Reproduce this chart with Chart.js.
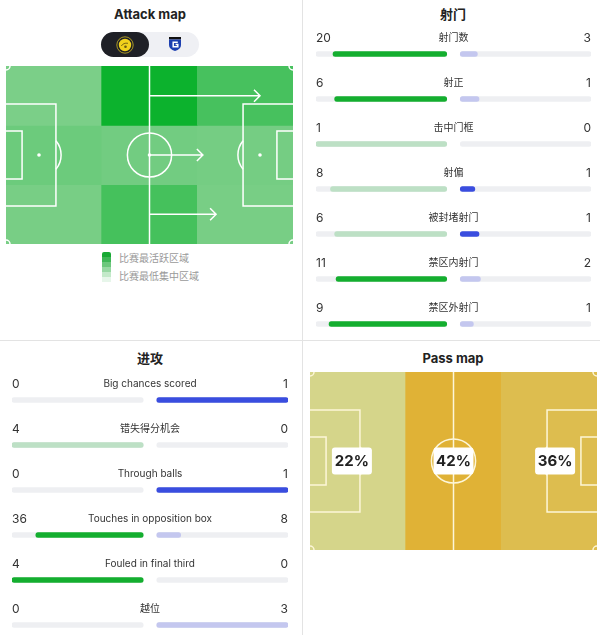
<!DOCTYPE html>
<html>
<head>
<meta charset="utf-8">
<script src="https://cdn.jsdelivr.net/npm/chart.js@4.4.1/dist/chart.umd.min.js"></script>
<style>
  html, body { margin: 0; padding: 0; background: #fff; overflow: hidden; }
  body { width: 600px; height: 635px; position: relative; font-family: Inter, "Noto Sans CJK SC", sans-serif; color: #222; }
  .title { position: absolute; width: 300px; text-align: center; font-weight: 700; font-size: 13px; line-height: 16px; color: #222; }
  .vline { position: absolute; left: 302px; top: 0; width: 1px; height: 635px; background: #e3e3e3; }
  .hline { position: absolute; left: 0; top: 340px; width: 600px; height: 1px; background: #e3e3e3; }
  canvas { position: absolute; }
  .pill { position: absolute; left: 101px; top: 32px; width: 98px; height: 25px; border-radius: 13px; background: #eff0f4; }
  .pill .on { position: absolute; left: 0; top: 0; width: 48px; height: 25px; border-radius: 13px; background: #1f2026; }
  .pill svg { position: absolute; }
  .legend { position: absolute; left: 102px; top: 252px; }
  .legend .ramp { position: absolute; left: 0; top: 0; width: 9px; height: 30px; border-radius: 2px 2px 0 0;
    background: linear-gradient(#18a934 0 5px, #3fb656 5px 10px, #6cc77c 10px 15px, #98d8a3 15px 20px, #c3e9c9 20px 25px, #e7f6ea 25px 30px); }
  .legend span { position: absolute; left: 17px; font-size: 10px; line-height: 12px; color: #9a9a9a; white-space: nowrap; }
</style>
</head>
<body>
<div class="vline"></div>
<div class="hline"></div>

<div class="title" style="left:0; top:6px;">Attack map</div>
<div class="title" style="left:303px; top:6px;">射门</div>
<div class="title" style="left:0; top:350px;">进攻</div>
<div class="title" style="left:303px; top:350px;">Pass map</div>

<div class="pill">
  <div class="on"></div>
  <svg width="18" height="18" viewBox="0 0 18 18" style="left:15px; top:3.5px;">
    <circle cx="9" cy="9" r="8.2" fill="none" stroke="#cdb628" stroke-width="0.8"/>
    <circle cx="9" cy="9" r="6.2" fill="#f2d21c"/>
    <path d="M5.3 10 Q7.5 6.5 12 7.3" stroke="#6b5a12" stroke-width="0.9" fill="none"/>
    <circle cx="9.5" cy="10.8" r="1.3" fill="#6b5a12"/>
  </svg>
  <svg width="12" height="14" viewBox="0 0 12 14" style="left:68px; top:5px;">
    <path d="M0 0 H12 V2.5 H0 Z" fill="#111"/>
    <path d="M0 2.5 H12 V8 Q12 12 6 14 Q0 12 0 8 Z" fill="#1c3fb0"/>
    <path d="M8.8 5.2 H4.2 V9.8 H8.8 V7.6 H6.6" stroke="#fff" stroke-width="1.5" fill="none"/>
  </svg>
</div>

<div class="legend">
  <div class="ramp"></div>
  <span style="top:0px;">比赛最活跃区域</span>
  <span style="top:18px;">比赛最低集中区域</span>
</div>

<canvas id="attackMap" width="292" height="182" style="left:4px; top:64px;"></canvas>
<canvas id="shots" width="290" height="350" style="left:310px; top:0px;"></canvas>
<canvas id="attack" width="300" height="310" style="left:0px; top:340px;"></canvas>
<canvas id="passMap" width="292" height="182" style="left:308px; top:370px;"></canvas>

<script>
// attack map: pitch thirds (columns, own goal on the left) and channels (rows, top to bottom)
const zoneNames = ['Own third', 'Middle third', 'Final third'];
const channelNames = ['Left', 'Centre', 'Right'];
// activity per cell, % of the busiest cell
const heatLeft = [1, 100, 47];
const heatCentre = [14, 9, 6];
const heatRight = [4, 49, 4];
// attack arrows from the halfway line, length in % of pitch length
const arrowLengths = [38.5, 18.6, 23.2];

// shots
const shotLabels = ['射门数', '射正', '击中门框', '射偏', '被封堵射门', '禁区内射门', '禁区外射门'];
const shotHome = [20, 6, 1, 8, 6, 11, 9];
const shotAway = [3, 1, 0, 1, 1, 2, 1];
const shotLowerBetter = [false, false, true, true, true, false, false];

// attack
const attackLabels = ['Big chances scored', '错失得分机会', 'Through balls', 'Touches in opposition box', 'Fouled in final third', '越位'];
const attackHome = [0, 4, 0, 36, 4, 0];
const attackAway = [1, 0, 1, 8, 0, 3];
const attackLowerBetter = [false, true, false, false, false, true];

// pass map: share of passes per third
const passZones = ['Defensive third', 'Middle third', 'Attacking third'];
const passShare = [22, 42, 36];

const GREEN = '#14ae2f';
const GREEN_LIGHT = '#bde0c5';
const BLUE = '#3a4ddf';
const BLUE_LIGHT = '#c4c7ef';
const TRACK = '#eeeff2';
const FONT = 'Inter, "Noto Sans CJK SC", sans-serif';

function hexToRgb(hex) {
    const n = parseInt(hex.slice(1), 16);
    return [(n >> 16) & 255, (n >> 8) & 255, n & 255];
}

function mix(from, to, t) {
    const a = hexToRgb(from);
    const b = hexToRgb(to);
    const c = a.map((v, i) => Math.round(v + (b[i] - v) * t));
    return `rgb(${c[0]}, ${c[1]}, ${c[2]})`;
}

// pitch markings, positions in % of pitch length / width
function drawPitch(chart, color, lineWidth) {
    const ctx = chart.ctx;
    const px = chart.scales.px;
    const py = chart.scales.py;
    const X = v => px.getPixelForValue(v);
    const Y = v => py.getPixelForValue(v);
    const r = (X(100) - X(0)) * 0.077;

    ctx.save();
    ctx.strokeStyle = color;
    ctx.fillStyle = color;
    ctx.lineWidth = lineWidth;

    // halfway line and centre circle
    ctx.beginPath();
    ctx.moveTo(X(50), Y(0));
    ctx.lineTo(X(50), Y(100));
    ctx.stroke();
    ctx.beginPath();
    ctx.arc(X(50), Y(50), r, 0, Math.PI * 2);
    ctx.stroke();
    ctx.beginPath();
    ctx.arc(X(50), Y(50), 1.8, 0, Math.PI * 2);
    ctx.fill();

    [[0, 1], [100, -1]].forEach(([edge, dir]) => {
        const box = edge + dir * 17.4;
        const six = edge + dir * 5.6;
        const spot = edge + dir * 11.5;
        ctx.beginPath();
        ctx.moveTo(X(edge), Y(21.3));
        ctx.lineTo(X(box), Y(21.3));
        ctx.lineTo(X(box), Y(78.7));
        ctx.lineTo(X(edge), Y(78.7));
        ctx.moveTo(X(edge), Y(36.5));
        ctx.lineTo(X(six), Y(36.5));
        ctx.lineTo(X(six), Y(63.5));
        ctx.lineTo(X(edge), Y(63.5));
        ctx.stroke();
        ctx.beginPath();
        ctx.arc(X(spot), Y(50), 1.8, 0, Math.PI * 2);
        ctx.fill();
        const a = Math.acos(Math.abs(X(box) - X(spot)) / r);
        ctx.beginPath();
        if (dir > 0) ctx.arc(X(spot), Y(50), r, -a, a);
        else ctx.arc(X(spot), Y(50), r, Math.PI - a, Math.PI + a);
        ctx.stroke();
    });

    // corner arcs
    [[0, 0, 0], [100, 0, 0.5], [100, 100, 1], [0, 100, 1.5]].forEach(([cx, cy, s]) => {
        ctx.beginPath();
        ctx.arc(X(cx), Y(cy), 4, s * Math.PI, (s + 0.5) * Math.PI);
        ctx.stroke();
    });
    ctx.restore();
}

const pitchScales = {
    px: { type: 'linear', axis: 'x', display: false, offset: false, min: 0, max: 100 },
    py: { type: 'linear', axis: 'y', display: false, offset: false, min: 0, max: 100, reverse: true }
};

// ---------- attack map ----------
const heatRows = [heatLeft, heatCentre, heatRight];

new Chart(document.getElementById('attackMap'), {
    type: 'bar',
    data: {
        labels: zoneNames,
        datasets: heatRows.map((row, i) => ({
            label: channelNames[i],
            data: row.map(() => 1),
            backgroundColor: row.map(v => mix('#7ccf89', '#0cb22d', v / 100)),
            borderWidth: 0,
            categoryPercentage: 1,
            barPercentage: 1
        }))
    },
    options: {
        responsive: false,
        animation: false,
        layout: { padding: { left: 2, top: 2, right: 3, bottom: 2 } },
        scales: {
            x: { display: false, stacked: true },
            y: { display: false, stacked: true, min: 0, max: 3, reverse: true },
            ...pitchScales
        },
        plugins: { legend: { display: false }, tooltip: { enabled: false } }
    },
    plugins: [{
        id: 'pitchLines',
        afterDatasetsDraw(chart) {
            drawPitch(chart, '#ffffff', 1.5);
            const ctx = chart.ctx;
            const px = chart.scales.px;
            const y = chart.scales.y;
            ctx.save();
            ctx.strokeStyle = '#ffffff';
            ctx.lineWidth = 1.5;
            arrowLengths.forEach((len, i) => {
                const yy = y.getPixelForValue(i + 0.5);
                const x0 = px.getPixelForValue(50);
                const x1 = px.getPixelForValue(50 + len);
                ctx.beginPath();
                ctx.moveTo(x0, yy);
                ctx.lineTo(x1, yy);
                ctx.moveTo(x1 - 6, yy - 6);
                ctx.lineTo(x1, yy);
                ctx.lineTo(x1 - 6, yy + 6);
                ctx.stroke();
            });
            ctx.restore();
        }
    }]
});

// ---------- stat bars ----------
function statChart(id, labels, home, away, lowerBetter, padding) {
    const h = 0.052;
    const share = (a, b) => (a + b === 0 ? 0 : a / (a + b));
    const homeBetter = i => (lowerBetter[i] ? home[i] < away[i] : home[i] > away[i]);
    const awayBetter = i => (lowerBetter[i] ? away[i] < home[i] : away[i] > home[i]);

    new Chart(document.getElementById(id), {
        type: 'bar',
        data: {
            labels: labels,
            datasets: [
                {
                    data: home.map((v, i) => (v > 0 ? [-h - share(v, away[i]), -h] : null)),
                    backgroundColor: home.map((v, i) => (homeBetter(i) ? GREEN : GREEN_LIGHT)),
                    order: 0
                },
                {
                    data: away.map((v, i) => (v > 0 ? [h, h + share(v, home[i])] : null)),
                    backgroundColor: away.map((v, i) => (awayBetter(i) ? BLUE : BLUE_LIGHT)),
                    order: 0
                },
                { data: labels.map(() => [-1 - h, -h]), backgroundColor: TRACK, order: 1 },
                { data: labels.map(() => [h, 1 + h]), backgroundColor: TRACK, order: 1 }
            ]
        },
        options: {
            indexAxis: 'y',
            responsive: false,
            animation: false,
            layout: { padding: padding },
            datasets: { bar: { grouped: false, barThickness: 5, borderRadius: 3, borderSkipped: false } },
            scales: {
                x: { display: false, min: -1 - h, max: 1 + h },
                y: { display: false }
            },
            plugins: { legend: { display: false }, tooltip: { enabled: false } }
        },
        plugins: [{
            id: 'statText',
            afterDraw(chart) {
                const ctx = chart.ctx;
                const area = chart.chartArea;
                const y = chart.scales.y;
                ctx.save();
                ctx.textBaseline = 'middle';
                ctx.fillStyle = '#333';
                labels.forEach((label, i) => {
                    const yy = y.getPixelForValue(i) - 16;
                    ctx.font = '12px ' + FONT;
                    ctx.textAlign = 'left';
                    ctx.fillText(String(home[i]), area.left, yy);
                    ctx.textAlign = 'right';
                    ctx.fillText(String(away[i]), area.right, yy);
                    ctx.font = '10px ' + FONT;
                    ctx.textAlign = 'center';
                    ctx.fillText(label, (area.left + area.right) / 2, yy);
                });
                ctx.restore();
            }
        }]
    });
}

statChart('shots', shotLabels, shotHome, shotAway, shotLowerBetter, { left: 6, right: 9, top: 31.5, bottom: 3.5 });
statChart('attack', attackLabels, attackHome, attackAway, attackLowerBetter, { left: 12, right: 12, top: 37.5, bottom: 2.5 });

// ---------- pass map ----------
const minShare = Math.min(...passShare);
const maxShare = Math.max(...passShare);

new Chart(document.getElementById('passMap'), {
    type: 'bar',
    data: {
        labels: passZones,
        datasets: [{
            data: passShare.map(() => 1),
            backgroundColor: passShare.map(v => mix('#d5d58a', '#e0b236', (v - minShare) / (maxShare - minShare))),
            borderWidth: 0,
            categoryPercentage: 1,
            barPercentage: 1
        }]
    },
    options: {
        responsive: false,
        animation: false,
        layout: { padding: { left: 2, top: 2, right: 3, bottom: 2 } },
        scales: {
            x: { display: false },
            y: { display: false, min: 0, max: 1 },
            ...pitchScales
        },
        plugins: { legend: { display: false }, tooltip: { enabled: false } }
    },
    plugins: [{
        id: 'passLabels',
        afterDatasetsDraw(chart) {
            drawPitch(chart, '#fdf6d8', 1.5);
            const ctx = chart.ctx;
            const px = chart.scales.px;
            const py = chart.scales.py;
            const labelAt = [14.6, 50, 85.4];
            ctx.save();
            ctx.font = 'bold 15px ' + FONT;
            ctx.textAlign = 'center';
            ctx.textBaseline = 'middle';
            passShare.forEach((v, i) => {
                const cx = px.getPixelForValue(labelAt[i]);
                const cy = py.getPixelForValue(50);
                ctx.fillStyle = '#ffffff';
                ctx.beginPath();
                ctx.roundRect(cx - 20, cy - 13.5, 40, 27, 3);
                ctx.fill();
                ctx.fillStyle = '#222';
                ctx.fillText(v + '%', cx, cy + 0.5);
            });
            ctx.restore();
        }
    }]
});
</script>
</body>
</html>
